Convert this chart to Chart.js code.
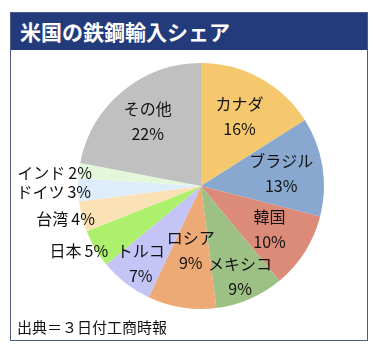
<!DOCTYPE html>
<html>
<head>
<meta charset="utf-8">
<script src="https://cdn.jsdelivr.net/npm/chart.js@4/dist/chart.umd.min.js"></script>
<style>
  body { margin: 0; background: #fff; font-family: "Noto Sans CJK JP", sans-serif; }
  #box { position: absolute; left: 10px; top: 12px; width: 356px; height: 327px; border: 1px solid #4d5b82; }
  #head { position: absolute; left: 0; top: 0; width: 356px; height: 37px; background: #233b7b; }
  #title { position: absolute; left: 9px; top: 4px; color: #fff; font-size: 21px; font-weight: bold; line-height: 28px; }
  #wrap { position: absolute; left: 1px; top: 39px; width: 356px; height: 270px; }
  #src { position: absolute; left: 6px; top: 303px; font-size: 15px; color: #111; line-height: 22px; }
</style>
</head>
<body>
<div id="box">
  <div id="head"><div id="title">米国の鉄鋼輸入シェア</div></div>
  <div id="wrap"><canvas id="pie"></canvas></div>
  <div id="src">出典＝３日付工商時報</div>
</div>
<script>
// import share by country (%), clockwise from 12 o'clock
const countries = ['カナダ', 'ブラジル', '韓国', 'メキシコ', 'ロシア', 'トルコ', '日本', '台湾', 'ドイツ', 'インド', 'その他'];
const shares = [16, 13, 10, 9, 9, 7, 5, 4, 3, 2, 22];
const colors = ['#f6c86e', '#88a8d0', '#dc8b79', '#9dc184', '#eeaa76', '#c4c4f6', '#adf06c', '#fbe2b6', '#deedfb', '#e3f8db', '#c0c0c0'];

// label placement: fraction of radius for inside labels, 'out' for small slices on the left
const labelPos = [0.65, 0.66, 0.66, 0.8, 0.53, 0.8, 'out', 'out', 'out', 'out', 0.68];

const pieLabels = {
    id: 'pieLabels',
    afterDatasetsDraw(chart) {
        const ctx = chart.ctx;
        const arcs = chart.getDatasetMeta(0).data;
        ctx.save();
        ctx.fillStyle = '#111';
        ctx.font = '16px "Noto Sans CJK JP", sans-serif';
        ctx.textBaseline = 'middle';
        arcs.forEach(function (arc, i) {
            const mid = (arc.startAngle + arc.endAngle) / 2;
            const r = arc.outerRadius;
            const pct = shares[i] + '%';
            if (labelPos[i] === 'out') {
                // name and percent with a small gap, right aligned just past the rim
                const x = arc.x + Math.cos(mid) * r + 13;
                const y = arc.y + Math.sin(mid) * r + 2;
                ctx.textAlign = 'right';
                ctx.fillText(pct, x, y);
                ctx.fillText(countries[i], x - ctx.measureText(pct).width - 3, y);
            } else {
                const x = arc.x + Math.cos(mid) * r * labelPos[i];
                const y = arc.y + Math.sin(mid) * r * labelPos[i];
                ctx.textAlign = 'center';
                ctx.fillText(countries[i], x, y - 12.5);
                ctx.fillText(pct, x, y + 12.5);
            }
        });
        ctx.restore();
    }
};

new Chart(document.getElementById('pie'), {
    type: 'pie',
    data: {
        labels: countries,
        datasets: [{
            data: shares,
            backgroundColor: colors,
            borderWidth: 0
        }]
    },
    options: {
        responsive: true,
        maintainAspectRatio: false,
        animation: false,
        layout: { padding: { left: 66, right: 44, top: 11, bottom: 13 } },
        plugins: {
            legend: { display: false },
            tooltip: { enabled: false }
        }
    },
    plugins: [pieLabels]
});
</script>
</body>
</html>
